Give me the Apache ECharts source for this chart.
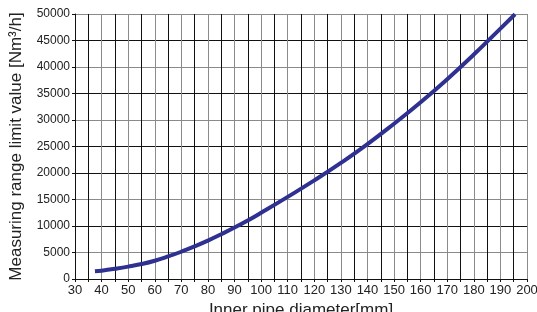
<!DOCTYPE html>
<html>
<head>
<meta charset="utf-8">
<script src="https://cdn.jsdelivr.net/npm/echarts@6/dist/echarts.min.js"></script>
<style>
  html, body { margin: 0; padding: 0; background: #fff; }
  #main { width: 537px; height: 312px; }
</style>
</head>
<body>
<div id="main"></div>
<script>
// pipe diameter [mm] and measuring range limit [Nm3/h]
var diameters = [37.5, 40, 45, 50, 55, 60, 65, 70, 75, 80, 85, 90, 95, 100, 110, 120, 130, 140, 150, 160, 170, 180, 190, 195.5];
var flowLimits = [1450, 1570, 1920, 2330, 2820, 3450, 4250, 5150, 6150, 7250, 8450, 9700, 11050, 12500, 15500, 18600, 21900, 25450, 29300, 33350, 37700, 42350, 47250, 49950];

var xTickLabels = [30, 40, 50, 60, 70, 80, 90, 100, 110, 120, 130, 140, 150, 160, 170, 180, 190, 200];

var myChart = echarts.init(document.getElementById('main'));

var points = diameters.map(function (d, i) { return [d, flowLimits[i]]; });

var option = {
    animation: false,
    textStyle: { fontFamily: 'Liberation Sans, Arial, sans-serif' },
    grid: { left: 75, right: 10, top: 14, bottom: 33, containLabel: false, outerBoundsMode: 'none' },
    xAxis: {
        type: 'value',
        min: 30,
        max: 200,
        interval: 5,
        name: 'Inner pipe diameter[mm]',
        nameLocation: 'middle',
        nameGap: 22,
        nameTextStyle: { fontSize: 17, color: '#222' },
        axisLine: { lineStyle: { color: '#111', width: 1 } },
        axisTick: { show: true, length: 3, lineStyle: { color: '#111' } },
        axisLabel: {
            fontSize: 13,
            color: '#222',
            margin: 5,
            formatter: function (v) {
                return xTickLabels.indexOf(v) >= 0 ? String(v) : '';
            }
        },
        splitLine: { show: true, lineStyle: { color: ['#8a8a8a', '#111'], width: 1 } }
    },
    yAxis: {
        type: 'value',
        min: 0,
        max: 50000,
        interval: 5000,
        name: 'Measuring range limit value [Nm³/h]',
        nameLocation: 'middle',
        nameGap: 50,
        nameTextStyle: { fontSize: 17, color: '#222' },
        axisLine: { show: true, lineStyle: { color: '#111', width: 1 } },
        axisTick: { show: true, length: 3, lineStyle: { color: '#111' } },
        axisLabel: {
            fontSize: 12,
            color: '#222',
            margin: 5,
            formatter: function (v) { return String(v); }
        },
        splitLine: {
            show: true,
            lineStyle: {
                color: ['#111', '#8a8a8a', '#111', '#8a8a8a', '#111', '#111', '#8a8a8a', '#111', '#8a8a8a', '#111', '#8a8a8a'],
                width: 1
            }
        }
    },
    series: [{
        type: 'line',
        data: points,
        smooth: true,
        showSymbol: false,
        lineStyle: { color: '#2e3192', width: 4 }
    }]
};

myChart.setOption(option);
</script>
</body>
</html>
